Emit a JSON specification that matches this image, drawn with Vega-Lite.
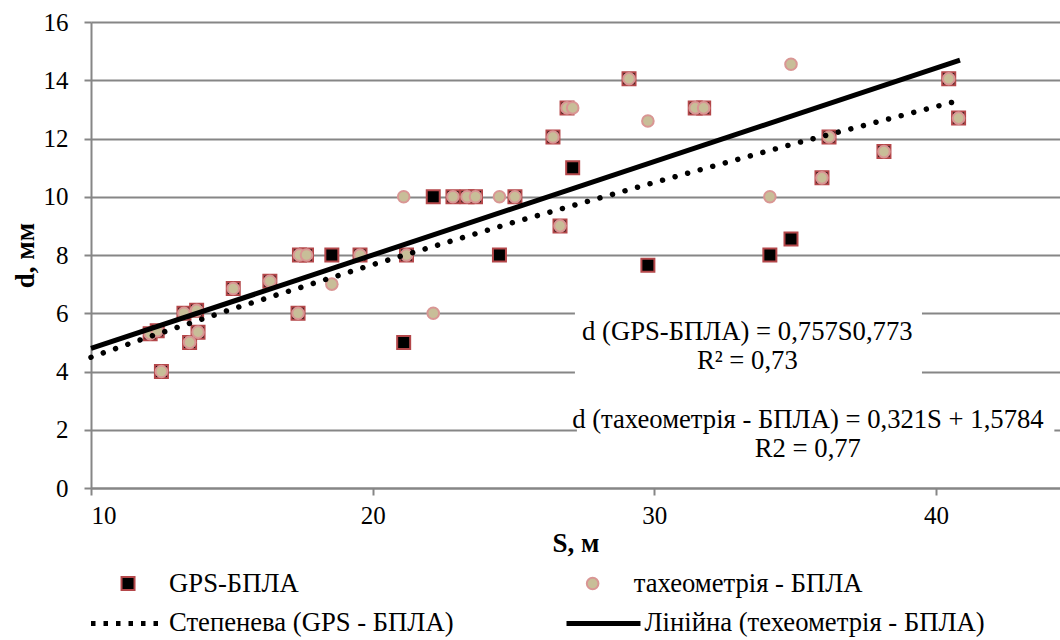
{
  "$schema": "https://vega.github.io/schema/vega-lite/v6.json",
  "width": 969,
  "height": 466,
  "autosize": {"type": "none"},
  "padding": {"left": 91, "top": 22, "right": 0, "bottom": 152},
  "background": "white",
  "config": {
    "view": {"stroke": null},
    "font": "Liberation Serif",
    "axis": {
      "labelFont": "Liberation Serif",
      "labelFontSize": 25,
      "labelColor": "#000000",
      "titleFont": "Liberation Serif",
      "titleFontSize": 27,
      "titleFontWeight": "bold",
      "titleColor": "#000000",
      "domainColor": "#868686",
      "domainWidth": 2,
      "tickColor": "#868686",
      "tickWidth": 2,
      "tickSize": 7,
      "gridColor": "#868686",
      "gridWidth": 2
    }
  },
  "datasets": {
    "points": [
      {"S": 12.1, "d": 5.3, "series": "GPS-БПЛА"},
      {"S": 12.35, "d": 5.4, "series": "GPS-БПЛА"},
      {"S": 12.5, "d": 4.0, "series": "GPS-БПЛА"},
      {"S": 13.3, "d": 6.0, "series": "GPS-БПЛА"},
      {"S": 13.5, "d": 5.0, "series": "GPS-БПЛА"},
      {"S": 13.75, "d": 6.1, "series": "GPS-БПЛА"},
      {"S": 13.8, "d": 5.35, "series": "GPS-БПЛА"},
      {"S": 15.05, "d": 6.85, "series": "GPS-БПЛА"},
      {"S": 16.35, "d": 7.1, "series": "GPS-БПЛА"},
      {"S": 17.35, "d": 6.0, "series": "GPS-БПЛА"},
      {"S": 17.4, "d": 8.0, "series": "GPS-БПЛА"},
      {"S": 17.65, "d": 8.0, "series": "GPS-БПЛА"},
      {"S": 18.55, "d": 8.0, "series": "GPS-БПЛА"},
      {"S": 19.55, "d": 8.0, "series": "GPS-БПЛА"},
      {"S": 21.1, "d": 5.0, "series": "GPS-БПЛА"},
      {"S": 21.2, "d": 8.0, "series": "GPS-БПЛА"},
      {"S": 22.15, "d": 10.0, "series": "GPS-БПЛА"},
      {"S": 22.85, "d": 10.0, "series": "GPS-БПЛА"},
      {"S": 23.35, "d": 10.0, "series": "GPS-БПЛА"},
      {"S": 23.65, "d": 10.0, "series": "GPS-БПЛА"},
      {"S": 24.5, "d": 8.0, "series": "GPS-БПЛА"},
      {"S": 25.05, "d": 10.0, "series": "GPS-БПЛА"},
      {"S": 26.4, "d": 12.05, "series": "GPS-БПЛА"},
      {"S": 26.65, "d": 9.0, "series": "GPS-БПЛА"},
      {"S": 26.9, "d": 13.05, "series": "GPS-БПЛА"},
      {"S": 27.1, "d": 11.0, "series": "GPS-БПЛА"},
      {"S": 29.1, "d": 14.05, "series": "GPS-БПЛА"},
      {"S": 29.77, "d": 7.65, "series": "GPS-БПЛА"},
      {"S": 31.45, "d": 13.05, "series": "GPS-БПЛА"},
      {"S": 31.75, "d": 13.05, "series": "GPS-БПЛА"},
      {"S": 34.1, "d": 8.0, "series": "GPS-БПЛА"},
      {"S": 34.85, "d": 8.55, "series": "GPS-БПЛА"},
      {"S": 35.95, "d": 10.65, "series": "GPS-БПЛА"},
      {"S": 36.2, "d": 12.05, "series": "GPS-БПЛА"},
      {"S": 38.15, "d": 11.55, "series": "GPS-БПЛА"},
      {"S": 40.45, "d": 14.05, "series": "GPS-БПЛА"},
      {"S": 40.8, "d": 12.7, "series": "GPS-БПЛА"},
      {"S": 12.1, "d": 5.3, "series": "тахеометрія - БПЛА"},
      {"S": 12.35, "d": 5.4, "series": "тахеометрія - БПЛА"},
      {"S": 12.5, "d": 4.0, "series": "тахеометрія - БПЛА"},
      {"S": 13.3, "d": 6.0, "series": "тахеометрія - БПЛА"},
      {"S": 13.5, "d": 5.0, "series": "тахеометрія - БПЛА"},
      {"S": 13.75, "d": 6.1, "series": "тахеометрія - БПЛА"},
      {"S": 13.8, "d": 5.35, "series": "тахеометрія - БПЛА"},
      {"S": 15.05, "d": 6.85, "series": "тахеометрія - БПЛА"},
      {"S": 16.35, "d": 7.1, "series": "тахеометрія - БПЛА"},
      {"S": 17.35, "d": 6.0, "series": "тахеометрія - БПЛА"},
      {"S": 17.4, "d": 8.0, "series": "тахеометрія - БПЛА"},
      {"S": 17.65, "d": 8.0, "series": "тахеометрія - БПЛА"},
      {"S": 18.55, "d": 7.0, "series": "тахеометрія - БПЛА"},
      {"S": 19.55, "d": 8.0, "series": "тахеометрія - БПЛА"},
      {"S": 21.1, "d": 10.0, "series": "тахеометрія - БПЛА"},
      {"S": 21.2, "d": 8.0, "series": "тахеометрія - БПЛА"},
      {"S": 22.15, "d": 6.0, "series": "тахеометрія - БПЛА"},
      {"S": 22.85, "d": 10.0, "series": "тахеометрія - БПЛА"},
      {"S": 23.35, "d": 10.0, "series": "тахеометрія - БПЛА"},
      {"S": 23.65, "d": 10.0, "series": "тахеометрія - БПЛА"},
      {"S": 24.5, "d": 10.0, "series": "тахеометрія - БПЛА"},
      {"S": 25.05, "d": 10.0, "series": "тахеометрія - БПЛА"},
      {"S": 26.4, "d": 12.05, "series": "тахеометрія - БПЛА"},
      {"S": 26.65, "d": 9.0, "series": "тахеометрія - БПЛА"},
      {"S": 26.9, "d": 13.05, "series": "тахеометрія - БПЛА"},
      {"S": 27.1, "d": 13.05, "series": "тахеометрія - БПЛА"},
      {"S": 29.1, "d": 14.05, "series": "тахеометрія - БПЛА"},
      {"S": 29.77, "d": 12.6, "series": "тахеометрія - БПЛА"},
      {"S": 31.45, "d": 13.05, "series": "тахеометрія - БПЛА"},
      {"S": 31.75, "d": 13.05, "series": "тахеометрія - БПЛА"},
      {"S": 34.1, "d": 10.0, "series": "тахеометрія - БПЛА"},
      {"S": 34.85, "d": 14.55, "series": "тахеометрія - БПЛА"},
      {"S": 35.95, "d": 10.65, "series": "тахеометрія - БПЛА"},
      {"S": 36.2, "d": 12.05, "series": "тахеометрія - БПЛА"},
      {"S": 38.15, "d": 11.55, "series": "тахеометрія - БПЛА"},
      {"S": 40.45, "d": 14.05, "series": "тахеометрія - БПЛА"},
      {"S": 40.8, "d": 12.7, "series": "тахеометрія - БПЛА"}
    ],
    "trends": [
      {"S": 10, "d": 4.49, "trend": "Степенева (GPS - БПЛА)"},
      {"S": 12, "d": 5.17, "trend": "Степенева (GPS - БПЛА)"},
      {"S": 15, "d": 6.14, "trend": "Степенева (GPS - БПЛА)"},
      {"S": 20, "d": 7.67, "trend": "Степенева (GPS - БПЛА)"},
      {"S": 25, "d": 9.12, "trend": "Степенева (GPS - БПЛА)"},
      {"S": 30, "d": 10.49, "trend": "Степенева (GPS - БПЛА)"},
      {"S": 35, "d": 11.83, "trend": "Степенева (GPS - БПЛА)"},
      {"S": 40.8, "d": 13.3, "trend": "Степенева (GPS - БПЛА)"},
      {"S": 10, "d": 4.79, "trend": "Лінійна (техеометрія - БПЛА)"},
      {"S": 40.85, "d": 14.69, "trend": "Лінійна (техеометрія - БПЛА)"}
    ],
    "boxes": [
      {"S": 27.18, "S2": 39.5, "d": 6.45, "d2": 3.4},
      {"S": 27.25, "S2": 44.2, "d": 2.75, "d2": 0.5}
    ],
    "notes": [
      {"S": 33.3, "d": 5.36, "label": "d (GPS-БПЛА) = 0,757S0,773"},
      {"S": 33.3, "d": 4.36, "label": "R² = 0,73"},
      {"S": 35.45, "d": 2.33, "label": "d (тахеометрія - БПЛА) = 0,321S + 1,5784"},
      {"S": 35.45, "d": 1.34, "label": "R2 = 0,77"}
    ]
  },
  "encoding": {
    "x": {
      "field": "S",
      "type": "quantitative",
      "scale": {"domain": [10, 44.4], "nice": false, "zero": false},
      "axis": {
        "title": "S, м",
        "values": [10, 20, 30, 40],
        "grid": false,
        "labelFont": "Liberation Serif",
        "labelPadding": 8,
        "titlePadding": 2
      }
    },
    "y": {
      "field": "d",
      "type": "quantitative",
      "scale": {"domain": [0, 16], "nice": false},
      "axis": {
        "title": "d, мм",
        "values": [0, 2, 4, 6, 8, 10, 12, 14, 16],
        "grid": true,
        "labelFont": "Liberation Serif",
        "labelPadding": 16,
        "titlePadding": 4
      }
    }
  },
  "layer": [
    {
      "data": {"name": "boxes"},
      "mark": {"type": "rect", "fill": "white", "stroke": null},
      "encoding": {
        "x2": {"field": "S2"},
        "y2": {"field": "d2"}
      }
    },
    {
      "data": {"name": "points"},
      "mark": {"type": "point", "filled": true, "strokeWidth": 2, "opacity": 1},
      "encoding": {
        "fill": {
          "field": "series",
          "type": "nominal",
          "scale": {"domain": ["GPS-БПЛА", "тахеометрія - БПЛА"], "range": ["#000000", "#C8BE98"]},
          "legend": {
            "title": null,
            "orient": "none",
            "legendX": 23.7,
            "legendY": 547.7,
            "direction": "horizontal",
            "columns": 2,
            "padding": 0,
            "columnPadding": 279.6,
            "symbolOffset": 0,
            "labelOffset": 27.7,
            "symbolStrokeWidth": 2,
            "labelFont": "Liberation Serif",
            "labelFontSize": 26.67,
            "labelColor": "#000000",
            "labelLimit": 600
          }
        },
        "stroke": {
          "field": "series",
          "type": "nominal",
          "scale": {"domain": ["GPS-БПЛА", "тахеометрія - БПЛА"], "range": ["#B4474A", "#D99694"]}
        },
        "shape": {
          "field": "series",
          "type": "nominal",
          "scale": {"domain": ["GPS-БПЛА", "тахеометрія - БПЛА"], "range": ["square", "circle"]}
        },
        "size": {
          "field": "series",
          "type": "nominal",
          "scale": {"domain": ["GPS-БПЛА", "тахеометрія - БПЛА"], "range": [169, 135]}
        }
      }
    },
    {
      "data": {"name": "trends"},
      "transform": [{"filter": "datum.trend === 'Степенева (GPS - БПЛА)'"}],
      "mark": {"type": "line", "color": "#000000", "strokeWidth": 5.5, "strokeDash": [0.01, 13], "strokeCap": "round"},
      "encoding": {}
    },
    {
      "data": {"name": "trends"},
      "transform": [{"filter": "datum.trend === 'Лінійна (техеометрія - БПЛА)'"}],
      "mark": {"type": "line", "color": "#000000", "strokeWidth": 5},
      "encoding": {}
    },
    {
      "data": {"name": "trends"},
      "mark": {"type": "line", "color": "#000000", "strokeWidth": 5, "opacity": 0},
      "encoding": {
        "strokeDash": {
          "field": "trend",
          "type": "nominal",
          "scale": {"domain": ["Степенева (GPS - БПЛА)", "Лінійна (техеометрія - БПЛА)"], "range": [[4.5, 8], [1, 0]]},
          "legend": {
            "title": null,
            "orient": "none",
            "legendX": -2.5,
            "legendY": 561.5,
            "direction": "horizontal",
            "columns": 2,
            "padding": 0,
            "columnPadding": 101.5,
            "symbolType": "stroke",
            "symbolSize": 5476,
            "symbolStrokeWidth": 5,
            "symbolStrokeColor": "#000000",
            "symbolOpacity": 1,
            "symbolOffset": 0,
            "labelOffset": 1.5,
            "labelFont": "Liberation Serif",
            "labelFontSize": 26.67,
            "labelColor": "#000000",
            "labelLimit": 600
          }
        }
      }
    },
    {
      "data": {"name": "notes"},
      "mark": {"type": "text", "font": "Liberation Serif", "fontSize": 26.67, "color": "#000000", "align": "center", "baseline": "middle"},
      "encoding": {
        "text": {"field": "label"}
      }
    }
  ]
}
